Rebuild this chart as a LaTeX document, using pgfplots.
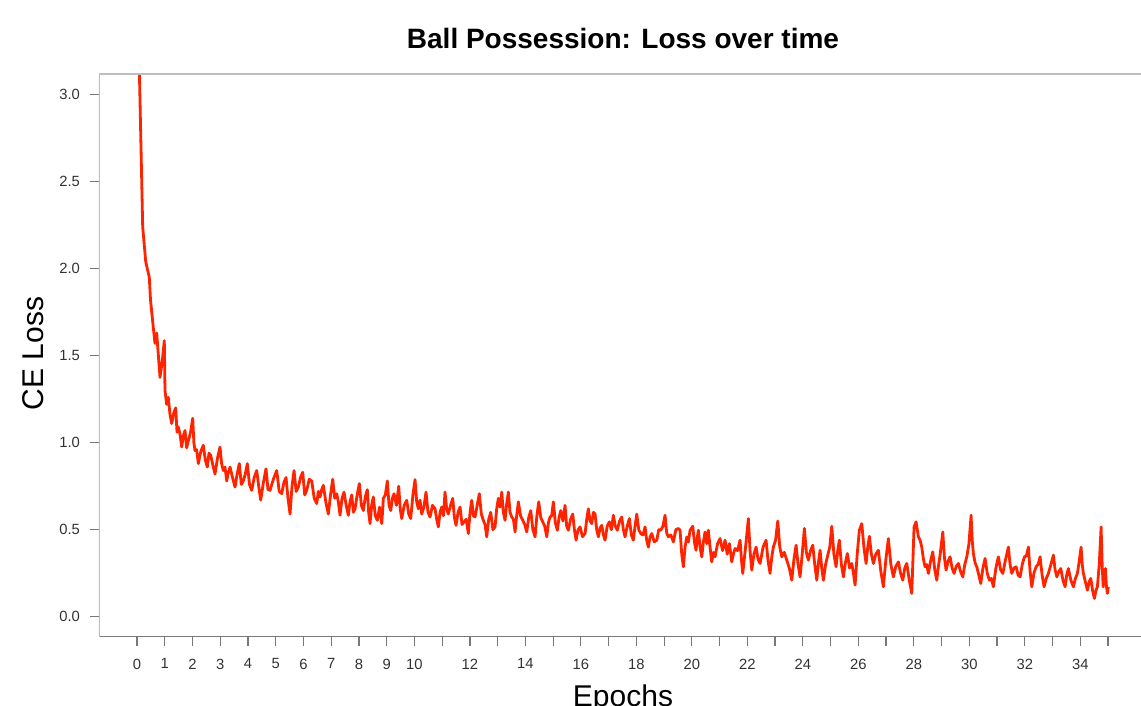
\documentclass[border=0pt]{standalone}
\usepackage{pgfplots}
\pgfplotsset{compat=1.18}
\usepackage{fontspec}
\setmainfont{Liberation Sans}
\definecolor{lossred}{RGB}{255,35,0}
\definecolor{axgray}{RGB}{120,120,120}
\definecolor{axlight}{RGB}{190,190,190}
\definecolor{ticktext}{RGB}{50,50,50}

\pgfplotstableread{
x y
0.043 3.45
0.205 2.24
0.314 2.04
0.443 1.95
0.487 1.82
0.588 1.66
0.649 1.57
0.710 1.63
0.829 1.375
0.912 1.47
0.984 1.586
1.009 1.30
1.069 1.22
1.128 1.26
1.190 1.16
1.251 1.11
1.323 1.17
1.395 1.20
1.442 1.06
1.489 1.09
1.550 1.05
1.611 0.975
1.670 1.04
1.730 1.07
1.790 0.97
1.849 1.01
1.930 1.06
2.008 1.14
2.050 1.00
2.091 0.955
2.150 0.96
2.210 0.88
2.300 0.95
2.390 0.985
2.462 0.90
2.534 0.86
2.595 0.94
2.657 0.927
2.735 0.87
2.812 0.82
2.900 0.91
2.992 0.975
3.050 0.88
3.111 0.84
3.172 0.86
3.234 0.78
3.293 0.83
3.353 0.86
3.443 0.80
3.533 0.745
3.610 0.82
3.688 0.88
3.760 0.76
3.832 0.78
3.904 0.82
3.976 0.88
4.055 0.76
4.135 0.726
4.225 0.80
4.315 0.84
4.387 0.75
4.459 0.67
4.555 0.77
4.650 0.85
4.722 0.73
4.795 0.726
4.915 0.79
5.036 0.84
5.126 0.72
5.216 0.707
5.293 0.77
5.371 0.80
5.443 0.68
5.516 0.59
5.588 0.75
5.660 0.84
5.737 0.72
5.815 0.745
5.894 0.80
5.973 0.83
6.045 0.70
6.118 0.726
6.208 0.79
6.298 0.78
6.388 0.68
6.478 0.65
6.537 0.72
6.597 0.688
6.656 0.73
6.716 0.755
6.806 0.66
6.896 0.59
6.975 0.70
7.055 0.79
7.127 0.68
7.199 0.707
7.258 0.66
7.318 0.583
7.390 0.68
7.462 0.716
7.540 0.64
7.617 0.583
7.678 0.66
7.740 0.70
7.800 0.60
7.859 0.62
7.936 0.70
8.014 0.765
8.086 0.64
8.158 0.61
8.230 0.69
8.302 0.73
8.350 0.60
8.399 0.535
8.458 0.64
8.518 0.688
8.590 0.58
8.663 0.554
8.742 0.63
8.821 0.535
8.850 0.60
8.879 0.68
8.951 0.70
9.023 0.78
9.085 0.64
9.146 0.61
9.205 0.68
9.265 0.707
9.350 0.64
9.434 0.75
9.488 0.62
9.542 0.564
9.632 0.64
9.722 0.669
9.795 0.59
9.867 0.564
9.945 0.70
10.022 0.788
10.082 0.66
10.141 0.62
10.202 0.67
10.263 0.59
10.340 0.63
10.418 0.716
10.490 0.60
10.562 0.573
10.652 0.64
10.743 0.62
10.802 0.56
10.862 0.516
10.923 0.60
10.984 0.63
11.044 0.58
11.103 0.716
11.162 0.62
11.222 0.59
11.302 0.64
11.381 0.68
11.440 0.57
11.500 0.525
11.572 0.60
11.644 0.63
11.716 0.53
11.788 0.545
11.866 0.56
11.943 0.478
12.005 0.60
12.066 0.669
12.125 0.58
12.185 0.573
12.262 0.64
12.340 0.707
12.412 0.59
12.484 0.554
12.545 0.53
12.606 0.459
12.678 0.56
12.751 0.60
12.828 0.50
12.906 0.516
12.965 0.62
13.025 0.68
13.086 0.63
13.147 0.716
13.206 0.60
13.266 0.554
13.325 0.65
13.385 0.716
13.446 0.60
13.508 0.573
13.568 0.56
13.627 0.487
13.686 0.58
13.746 0.66
13.825 0.58
13.904 0.554
13.976 0.53
14.048 0.487
14.120 0.57
14.193 0.61
14.270 0.50
14.348 0.459
14.414 0.58
14.481 0.66
14.553 0.57
14.625 0.545
14.698 0.52
14.770 0.459
14.829 0.54
14.888 0.573
14.948 0.58
15.007 0.66
15.080 0.54
15.152 0.497
15.213 0.57
15.274 0.61
15.352 0.55
15.429 0.64
15.488 0.52
15.548 0.497
15.628 0.56
15.707 0.59
15.766 0.50
15.826 0.44
15.898 0.50
15.970 0.516
16.060 0.46
16.150 0.478
16.210 0.56
16.269 0.62
16.330 0.55
16.392 0.535
16.452 0.60
16.511 0.59
16.570 0.50
16.630 0.459
16.691 0.51
16.752 0.525
16.812 0.47
16.871 0.44
16.948 0.52
17.026 0.545
17.098 0.50
17.170 0.583
17.242 0.52
17.314 0.497
17.394 0.55
17.473 0.573
17.532 0.50
17.592 0.459
17.670 0.52
17.747 0.564
17.820 0.47
17.891 0.44
17.952 0.52
18.014 0.59
18.086 0.50
18.158 0.478
18.236 0.47
18.313 0.516
18.372 0.44
18.432 0.40
18.494 0.46
18.555 0.478
18.645 0.43
18.735 0.44
18.807 0.50
18.879 0.497
18.956 0.52
19.034 0.583
19.094 0.48
19.153 0.459
19.243 0.47
19.333 0.43
19.423 0.50
19.513 0.507
19.575 0.497
19.635 0.36
19.694 0.287
19.755 0.40
19.816 0.459
19.876 0.43
19.935 0.497
20.032 0.52
20.092 0.43
20.151 0.382
20.192 0.45
20.234 0.497
20.296 0.40
20.357 0.344
20.416 0.43
20.476 0.487
20.536 0.42
20.595 0.497
20.656 0.40
20.717 0.315
20.776 0.37
20.836 0.344
20.926 0.42
21.016 0.449
21.106 0.38
21.197 0.44
21.274 0.36
21.352 0.42
21.395 0.37
21.438 0.315
21.498 0.36
21.557 0.392
21.648 0.38
21.738 0.44
21.786 0.33
21.835 0.249
21.936 0.40
22.037 0.564
22.098 0.38
22.160 0.268
22.238 0.36
22.315 0.40
22.387 0.33
22.459 0.306
22.567 0.40
22.675 0.44
22.747 0.32
22.819 0.249
22.878 0.34
22.938 0.40
23.017 0.44
23.097 0.55
23.169 0.40
23.241 0.344
23.331 0.37
23.421 0.325
23.512 0.28
23.602 0.21
23.680 0.33
23.757 0.411
23.829 0.30
23.901 0.229
23.978 0.36
24.056 0.507
24.128 0.37
24.200 0.325
24.279 0.38
24.358 0.411
24.430 0.30
24.503 0.21
24.562 0.31
24.622 0.382
24.682 0.28
24.741 0.21
24.820 0.30
24.899 0.354
24.971 0.40
25.043 0.52
25.120 0.36
25.198 0.287
25.258 0.38
25.317 0.44
25.390 0.30
25.462 0.229
25.534 0.31
25.606 0.363
25.686 0.28
25.765 0.306
25.824 0.25
25.883 0.182
25.960 0.36
26.038 0.497
26.125 0.535
26.202 0.40
26.280 0.306
26.340 0.40
26.399 0.462
26.471 0.36
26.543 0.306
26.633 0.36
26.723 0.382
26.813 0.26
26.903 0.172
26.994 0.33
27.084 0.449
27.174 0.30
27.264 0.229
27.354 0.29
27.444 0.315
27.524 0.25
27.603 0.21
27.675 0.28
27.747 0.306
27.837 0.21
27.927 0.134
28.010 0.516
28.082 0.545
28.165 0.459
28.226 0.44
28.288 0.40
28.348 0.33
28.407 0.287
28.466 0.30
28.526 0.249
28.605 0.32
28.684 0.373
28.756 0.27
28.828 0.21
28.888 0.29
28.947 0.354
28.996 0.42
29.045 0.487
29.104 0.34
29.164 0.268
29.236 0.32
29.308 0.344
29.380 0.28
29.452 0.249
29.530 0.29
29.607 0.306
29.686 0.26
29.766 0.229
29.838 0.30
29.910 0.344
29.988 0.42
30.065 0.583
30.106 0.44
30.148 0.363
30.209 0.31
30.270 0.287
30.342 0.24
30.415 0.191
30.492 0.28
30.570 0.335
30.648 0.25
30.725 0.21
30.797 0.22
30.869 0.172
30.959 0.28
31.049 0.344
31.128 0.27
31.208 0.249
31.309 0.33
31.410 0.40
31.471 0.30
31.532 0.249
31.610 0.28
31.687 0.287
31.760 0.24
31.832 0.229
31.910 0.30
31.987 0.344
32.060 0.35
32.131 0.40
32.192 0.26
32.253 0.172
32.330 0.25
32.408 0.287
32.480 0.30
32.553 0.344
32.625 0.24
32.697 0.172
32.775 0.22
32.852 0.249
32.942 0.30
33.032 0.354
33.094 0.27
33.155 0.229
33.226 0.26
33.298 0.277
33.376 0.21
33.453 0.172
33.512 0.24
33.572 0.277
33.662 0.21
33.753 0.172
33.825 0.22
33.897 0.249
33.964 0.32
34.031 0.40
34.072 0.30
34.113 0.249
34.186 0.20
34.258 0.153
34.319 0.20
34.380 0.22
34.445 0.15
34.510 0.105
34.564 0.15
34.618 0.172
34.685 0.30
34.752 0.516
34.790 0.30
34.827 0.172
34.866 0.23
34.906 0.277
34.942 0.18
34.978 0.134
35.014 0.172
}\losstable

\begin{document}
\begin{tikzpicture}
\begin{axis}[
  at={(0,0)}, anchor=south west,
  scale only axis, width=521pt, height=281.35pt,
  xmin=-1.37, xmax=36.19, ymin=-0.1146, ymax=3.118,
  axis line style={draw=none},
  xtick={0,1,...,35},
  xticklabels={0,1,2,3,4,5,6,7,8,9,10,,12,,14,,16,,18,,20,,22,,24,,26,,28,,30,,32,,34,},
  ytick={0,0.5,1,1.5,2,2.5,3},
  yticklabels={0.0,0.5,1.0,1.5,2.0,2.5,3.0},
  xtick pos=left, ytick pos=left,
  tick align=outside, major tick length=4.5pt,
  tick style={axgray, line width=0.6pt},
  ticklabel style={font=\fontsize{7.4pt}{9pt}\selectfont, text=ticktext},
  xticklabel style={yshift=-3pt},
  yticklabel style={xshift=-1.5pt},
  clip=true,
]
\addplot[lossred, line width=1.4pt, line join=round] table[x=x,y=y] {\losstable};
\draw[axgray, line width=0.7pt] (rel axis cs:0,0) -- (rel axis cs:1,0);
\draw[axlight, line width=0.8pt] (rel axis cs:0,0) -- (rel axis cs:0,1);
\draw[axlight, line width=1pt] (rel axis cs:0,1) -- (rel axis cs:1,1);
\end{axis}
\node[font=\bfseries\fontsize{14pt}{17pt}\selectfont, anchor=base] at (262pt,294.2pt) {Ball Possession: Loss over time};
\node[font=\fontsize{15pt}{18pt}\selectfont, anchor=base, rotate=90] at (-27.85pt,141.6pt) {CE Loss};
\node[font=\fontsize{15pt}{18pt}\selectfont, anchor=base] at (262pt,-34.9pt) {Epochs};
\pgfresetboundingbox
\path[use as bounding box] (-49.5pt,-34.65pt) rectangle (521pt,318.35pt);
\end{tikzpicture}
\end{document}
